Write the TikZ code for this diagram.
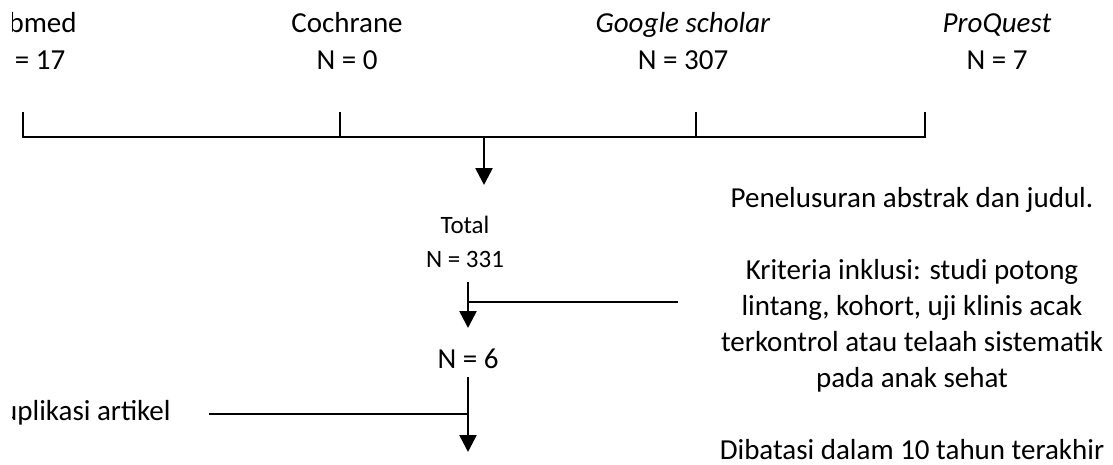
\documentclass[tikz,border=0pt]{standalone}
\usepackage{fontspec}
\setmainfont{Carlito}
\usetikzlibrary{arrows.meta,positioning}

\begin{document}
\begin{tikzpicture}[x=0.5pt,y=-0.5pt,
  lbl/.style={align=center,inner sep=0pt,anchor=base,font=\fontsize{14.5}{18.5}\selectfont},
  sml/.style={lbl,font=\fontsize{12.5}{17}\selectfont},
  bar/.style={line width=1.3pt},
  flow/.style={-{Triangle[width=8.5pt,length=8.5pt]},line width=1.3pt}]
\useasboundingbox (0,0) rectangle (1113,465);
% databases (left edge of the page cuts the first letters)
\begin{scope}
\clip (12,0) rectangle (1113,465);
\node[lbl] (pub) at (27.5,70) {Pubmed\\N = 17};
\node[lbl,anchor=base east] (dup) at (171,420) {Duplikasi artikel};
\end{scope}
\node[lbl] (coch) at (347,70) {Cochrane\\N = 0};
\node[lbl] (gs) at (683,70) {\textit{Google scholar}\\N = 307};
\node[lbl] (pq) at (997,70) {\textit{ProQuest}\\N = 7};
% counts
\node[sml] (total) at (465,267) {Total\\N = 331};
\node[lbl] (n6) at (468,368) {N = 6};
\node[lbl,font=\fontsize{14.5}{18}\selectfont] (crit) at (912,459) {Penelusuran abstrak dan judul.\\[18pt]
  Kriteria inklusi: studi potong\\lintang, kohort, uji klinis acak\\terkontrol atau telaah sistematik\\pada anak sehat\\[18pt]
  Dibatasi dalam 10 tahun terakhir};
% bracket
\coordinate (t1) at (23,112); \coordinate (t2) at (340,112);
\coordinate (t3) at (696,112); \coordinate (t4) at (925,112);
\coordinate (j) at (484,137);
\draw[bar] (t1) -- (t1 |- j) -| (t4);
\draw[bar] (t2) -- (t2 |- j); \draw[bar] (t3) -- (t3 |- j);
% arrows
\coordinate (e1) at (484,185);
\coordinate (s2) at (468,282); \coordinate (e2) at (468,328);
\coordinate (k2) at (468,302); \coordinate (r2) at (678,302);
\coordinate (s3) at (468,377); \coordinate (e3) at (468,452);
\coordinate (k3) at (468,414); \coordinate (l3) at (209,414);
\draw[flow] (j) -- (e1);
\draw[flow] (s2) -- (e2); \draw[bar] (k2) -- (r2);
\draw[flow] (s3) -- (e3); \draw[bar] (l3) -- (k3);
\end{tikzpicture}
\end{document}
